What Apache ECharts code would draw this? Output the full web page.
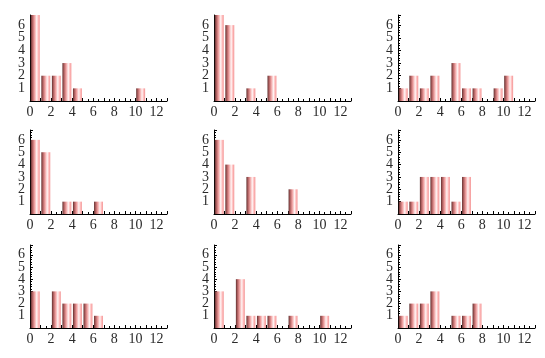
<!DOCTYPE html>
<html>
<head>
<meta charset="utf-8">
<script src="https://cdn.jsdelivr.net/npm/echarts@6/dist/echarts.min.js"></script>
<style>html,body{margin:0;padding:0;background:#fff}#c{width:545px;height:358px}</style>
</head>
<body>
<div id="c"></div>
<script>
// Histogram counts per unit bin (bins 0..12), one array per panel
const panel1 = [7, 2, 2, 3, 1, 0, 0, 0, 0, 0, 1, 0, 0];
const panel2 = [7, 6, 0, 1, 0, 2, 0, 0, 0, 0, 0, 0, 0];
const panel3 = [1, 2, 1, 2, 0, 3, 1, 1, 0, 1, 2, 0, 0];
const panel4 = [6, 5, 0, 1, 1, 0, 1, 0, 0, 0, 0, 0, 0];
const panel5 = [6, 4, 0, 3, 0, 0, 0, 2, 0, 0, 0, 0, 0];
const panel6 = [1, 1, 3, 3, 3, 1, 3, 0, 0, 0, 0, 0, 0];
const panel7 = [3, 0, 3, 2, 2, 2, 1, 0, 0, 0, 0, 0, 0];
const panel8 = [3, 0, 4, 1, 1, 1, 0, 1, 0, 0, 1, 0, 0];
const panel9 = [1, 2, 2, 3, 0, 1, 1, 2, 0, 0, 0, 0, 0];
const panels = [panel1, panel2, panel3, panel4, panel5, panel6, panel7, panel8, panel9];
const xTickLabels = [0, 2, 4, 6, 8, 10, 12];
const yTickLabels = [1, 2, 3, 4, 5, 6];

const colLeft = [30, 214, 398];
const rowTop = [15, 130, 245];
const rowH = [86, 84, 83];
const W = 137;

const font = { fontFamily: 'Liberation Serif', fontSize: 14, color: '#2a2a2a' };
const barFill = new echarts.graphic.LinearGradient(0, 0, 1, 0, [
  { offset: 0, color: '#5e2e2e' },
  { offset: 0.16, color: '#a85a5a' },
  { offset: 0.4, color: '#ee9c9c' },
  { offset: 0.66, color: '#fff4f4' },
  { offset: 0.84, color: '#ffbaba' },
  { offset: 1, color: '#f29494' }
]);

const grids = [], xAxes = [], yAxes = [], series = [];
panels.forEach((counts, i) => {
  const r = Math.floor(i / 3), c = i % 3;
  grids.push({ left: colLeft[c], top: rowTop[r], width: W, height: rowH[r] });
  xAxes.push({
    type: 'value', gridIndex: i, min: 0, max: 13, interval: 1,
    axisLine: { show: true, onZero: false, lineStyle: { color: '#000', width: 1 } },
    axisTick: { show: true, inside: true, length: 3, lineStyle: { color: '#000' } },
    minorTick: { show: true, splitNumber: 2, length: 2, lineStyle: { color: '#000' } },
    splitLine: { show: false },
    axisLabel: Object.assign({
      margin: 4,
      formatter: v => (xTickLabels.indexOf(v) >= 0 ? String(v) : '')
    }, font)
  });
  yAxes.push({
    type: 'value', gridIndex: i, min: 0, max: 6.8, interval: 1,
    axisLine: { show: true, onZero: false, lineStyle: { color: '#000', width: 1 } },
    axisTick: { show: true, inside: true, length: 3, lineStyle: { color: '#000' } },
    minorTick: { show: true, splitNumber: 5, length: 2, lineStyle: { color: '#000' } },
    splitLine: { show: false },
    axisLabel: Object.assign({
      margin: 5,
      formatter: v => (yTickLabels.indexOf(v) >= 0 ? String(v) : '')
    }, font)
  });
  series.push({
    type: 'custom', xAxisIndex: i, yAxisIndex: i, clip: true,
    data: counts.map((v, k) => [k, v]).filter(d => d[1] > 0),
    renderItem: (params, api) => {
      const k = api.value(0), v = api.value(1);
      const p0 = api.coord([k, 0]);
      const p1 = api.coord([k + 1, v]);
      const shape = echarts.graphic.clipRectByRect(
        { x: p0[0] + 0.8, y: p1[1], width: p1[0] - p0[0] - 1.6, height: p0[1] - p1[1] },
        params.coordSys
      );
      if (!shape) return;
      return { type: 'rect', shape: shape, style: { fill: barFill } };
    },
    z: 1
  });
});

const chart = echarts.init(document.getElementById('c'), null, { renderer: 'canvas' });
chart.setOption({
  animation: false,
  backgroundColor: '#fff',
  grid: grids, xAxis: xAxes, yAxis: yAxes, series: series
});
</script>
</body>
</html>
